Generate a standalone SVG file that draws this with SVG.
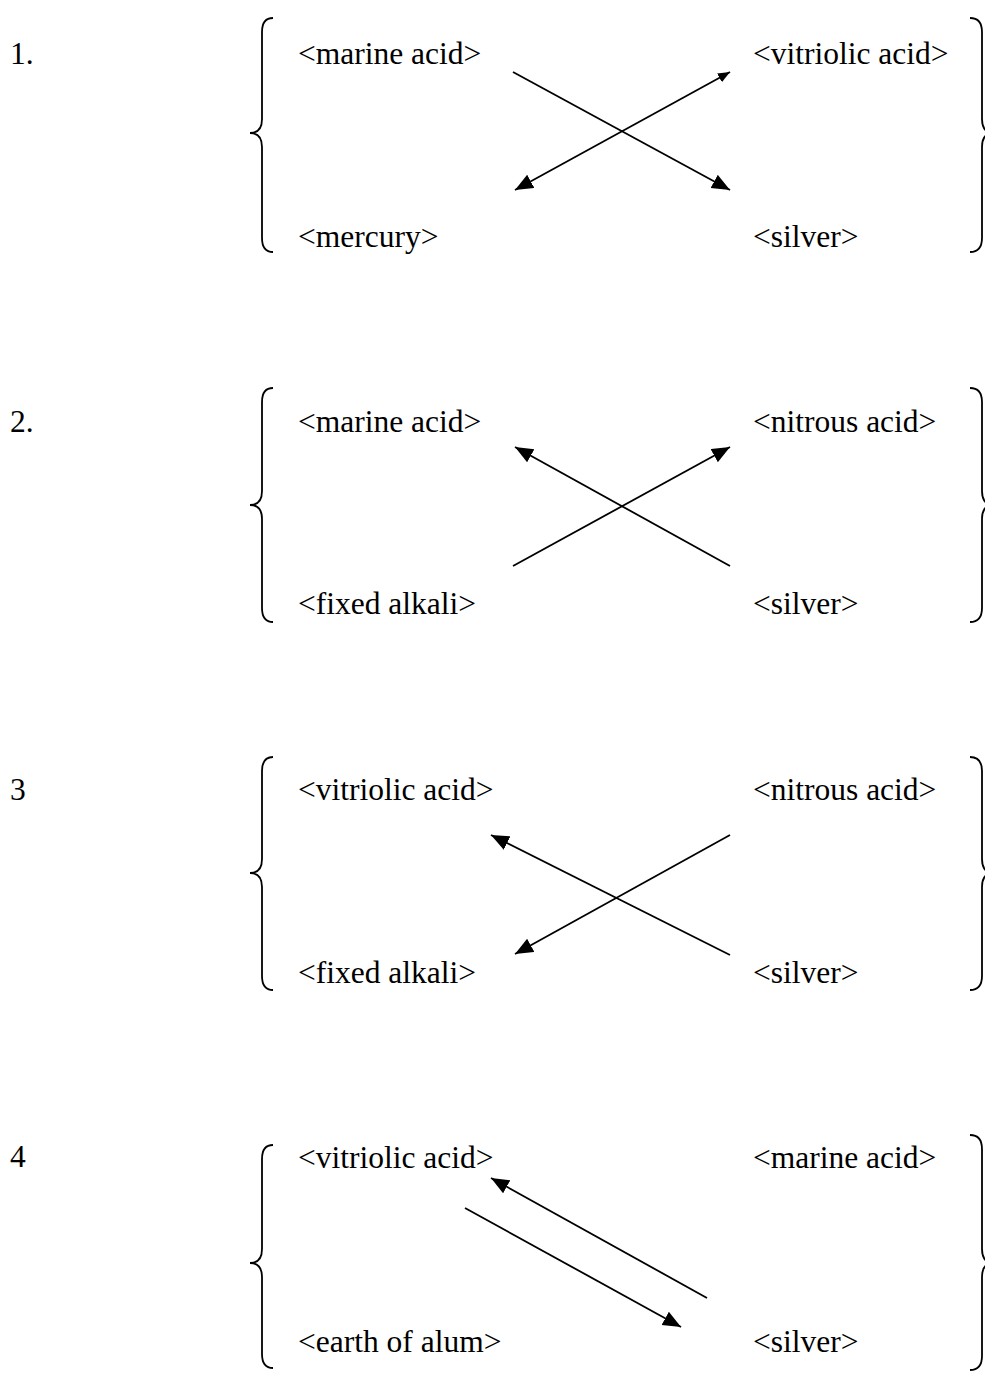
<svg xmlns="http://www.w3.org/2000/svg" width="985" height="1380" viewBox="0 0 985 1380">
<style>
text{font-family:"Liberation Serif","Times New Roman",serif;font-size:31.5px;fill:#000}
.c{stroke:#000;stroke-width:1.8;fill:none}
.b{stroke:#000;stroke-width:1.8;fill:none}
</style>
<defs>
<marker id="ah" markerUnits="userSpaceOnUse" markerWidth="19" markerHeight="16" refX="18" refY="7.5" orient="auto-start-reverse"><path d="M0,0 L18,7.5 L0,15 z" fill="#000"/></marker>
<marker id="ahs" markerUnits="userSpaceOnUse" markerWidth="13" markerHeight="11" refX="12" refY="5" orient="auto-start-reverse"><path d="M0,0 L12,5 L0,10 z" fill="#000"/></marker>
</defs>
<g id="block1">
<text x="10" y="64">1.</text>
<g id="n1a"><text x="298" y="64">&lt;marine acid&gt;</text></g>
<g id="n1b"><text x="753" y="64">&lt;vitriolic acid&gt;</text></g>
<g id="n1c"><text x="298" y="247">&lt;mercury&gt;</text></g>
<g id="n1d"><text x="753" y="247">&lt;silver&gt;</text></g>
<path class="b" d="M273,18 Q262,18 262,32 L262,119 Q262,133 250,133 Q262,133 262,147 L262,238 Q262,252 273,252"/>
<path class="b" d="M970,18 Q982,18 982,32 L982,119 Q982,133 994,133 Q982,133 982,147 L982,238 Q982,252 970,252"/>
</g>
<g id="block2">
<text x="10" y="432">2.</text>
<g id="n2a"><text x="298" y="432">&lt;marine acid&gt;</text></g>
<g id="n2b"><text x="753" y="432">&lt;nitrous acid&gt;</text></g>
<g id="n2c"><text x="298" y="614">&lt;fixed alkali&gt;</text></g>
<g id="n2d"><text x="753" y="614">&lt;silver&gt;</text></g>
<path class="b" d="M273,388 Q262,388 262,402 L262,491 Q262,505 250,505 Q262,505 262,519 L262,608 Q262,622 273,622"/>
<path class="b" d="M970,388 Q982,388 982,402 L982,491 Q982,505 994,505 Q982,505 982,519 L982,608 Q982,622 970,622"/>
</g>
<g id="block3">
<text x="10" y="800">3</text>
<g id="n3a"><text x="298" y="800">&lt;vitriolic acid&gt;</text></g>
<g id="n3b"><text x="753" y="800">&lt;nitrous acid&gt;</text></g>
<g id="n3c"><text x="298" y="983">&lt;fixed alkali&gt;</text></g>
<g id="n3d"><text x="753" y="983">&lt;silver&gt;</text></g>
<path class="b" d="M273,757 Q262,757 262,771 L262,859 Q262,873 250,873 Q262,873 262,887 L262,976 Q262,990 273,990"/>
<path class="b" d="M970,757 Q982,757 982,771 L982,859 Q982,873 994,873 Q982,873 982,887 L982,976 Q982,990 970,990"/>
</g>
<g id="block4">
<text x="10" y="1167">4</text>
<g id="n4a"><text x="298" y="1168">&lt;vitriolic acid&gt;</text></g>
<g id="n4b"><text x="753" y="1168">&lt;marine acid&gt;</text></g>
<g id="n4c"><text x="298" y="1352">&lt;earth of alum&gt;</text></g>
<g id="n4d"><text x="753" y="1352">&lt;silver&gt;</text></g>
<path class="b" d="M273,1145 Q262,1145 262,1159 L262,1249 Q262,1263 250,1263 Q262,1263 262,1277 L262,1354 Q262,1368 273,1368"/>
<path class="b" d="M970,1135 Q982,1135 982,1149 L982,1249 Q982,1263 994,1263 Q982,1263 982,1277 L982,1356 Q982,1370 970,1370"/>
</g>
<g id="connectors">
<line class="c" x1="513" y1="72" x2="730" y2="190" marker-end="url(#ah)"/>
<line class="c" x1="730" y1="72" x2="515" y2="190" marker-start="url(#ahs)" marker-end="url(#ah)"/>
<line class="c" x1="730" y1="566" x2="515" y2="447" marker-end="url(#ah)"/>
<line class="c" x1="513" y1="566" x2="730" y2="447" marker-end="url(#ah)"/>
<line class="c" x1="730" y1="955" x2="491" y2="835" marker-end="url(#ah)"/>
<line class="c" x1="730" y1="835" x2="515" y2="954" marker-end="url(#ah)"/>
<line class="c" x1="707" y1="1298" x2="491" y2="1178" marker-end="url(#ah)"/>
<line class="c" x1="465" y1="1208" x2="681" y2="1327" marker-end="url(#ah)"/>
</g>
</svg>
